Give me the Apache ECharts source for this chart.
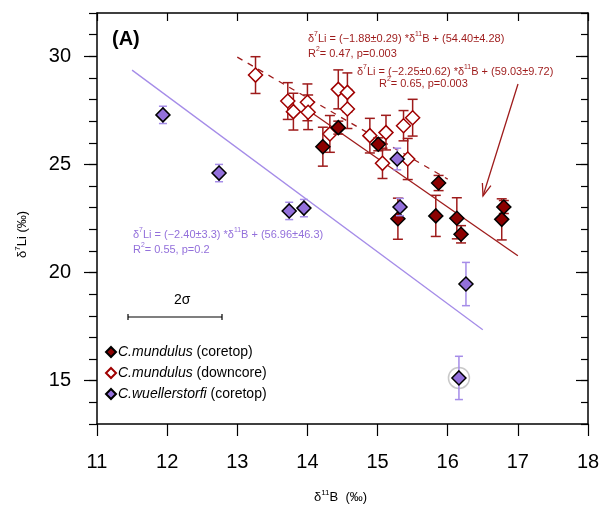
<!DOCTYPE html>
<html>
<head>
<meta charset="utf-8">
<script src="https://cdn.jsdelivr.net/npm/echarts@6/dist/echarts.min.js"></script>
<style>
  html, body { margin: 0; padding: 0; background: #fff; }
  #chart { width: 603px; height: 511px; }
</style>
</head>
<body>
<div id="chart"></div>
<script>
// C. mundulus (coretop)
const mundCoreB = [14.22, 14.44, 15.01, 15.87, 15.29, 15.83, 16.13, 16.19, 16.80, 16.77];
const mundCoreLi = [25.82, 26.70, 25.93, 24.14, 22.49, 22.62, 22.51, 21.77, 23.03, 22.46];
const mundCoreErr = [0.9, 0.3, 0.3, 0.35, 0.95, 0.95, 0.95, 0.4, 0.3, 0.95];

// C. mundulus (downcore)
const mundDownB = [13.26, 13.72, 13.80, 14.00, 14.01, 14.32, 14.44, 14.57, 14.57, 14.89, 15.12, 15.07, 15.37, 15.50, 15.43];
const mundDownLi = [29.13, 27.93, 27.44, 27.87, 27.41, 26.41, 28.47, 28.33, 27.56, 26.33, 26.47, 25.05, 26.79, 27.16, 25.25];
const mundDownErr = [0.85, 0.85, 0.85, 0.85, 0.8, 0.85, 0.9, 0.9, 0.9, 0.8, 0.8, 0.7, 0.7, 0.85, 0.95];

// C. wuellerstorfi (coretop)
const wuelB = [11.94, 12.74, 13.74, 13.95, 15.28, 15.32, 16.26, 16.16];
const wuelLi = [27.29, 24.60, 22.85, 22.98, 25.25, 23.03, 19.47, 15.13];
const wuelErr = [0.4, 0.4, 0.4, 0.4, 0.5, 0.4, 1.0, 1.0];
const circledIdx = 7;

// regression fits: dashed (downcore+coretop), solid (C. mundulus), purple (C. wuellerstorfi)
const fitSlope = [-1.88, -2.25, -2.40];
const fitIntercept = [54.40, 59.03, 56.96];
const fitFrom = [13.0, 14.0, 11.5];
const fitTo = [16.0, 17.0, 16.5];

const xTicks = [11, 12, 13, 14, 15, 16, 17, 18];
const yMajor = [15, 20, 25, 30];

const seriesNames = ['C.mundulus (coretop)', 'C.mundulus (downcore)', 'C.wuellerstorfi (coretop)'];

const FONT = '"Liberation Sans", Arial, Helvetica, sans-serif';
const RED = '#8b0000';
const RED_LINE = '#9e1b1b';
const PURPLE = '#9370db';
const PURPLE_LIGHT = '#a58ce8';

const zip = (a, b, c) => a.map((v, i) => c ? [v, b[i], c[i]] : [v, b[i]]);
const fitLine = i => [
    [fitFrom[i], fitSlope[i] * fitFrom[i] + fitIntercept[i]],
    [fitTo[i], fitSlope[i] * fitTo[i] + fitIntercept[i]]
];

function errBar(color, cap, width) {
    return function (params, api) {
        const x = api.value(0), y = api.value(1), e = api.value(2);
        const hi = api.coord([x, y + e]);
        const lo = api.coord([x, y - e]);
        const style = { stroke: color, lineWidth: width };
        return {
            type: 'group',
            children: [
                { type: 'line', shape: { x1: hi[0], y1: hi[1], x2: lo[0], y2: lo[1] }, style },
                { type: 'line', shape: { x1: hi[0] - cap, y1: hi[1], x2: hi[0] + cap, y2: hi[1] }, style },
                { type: 'line', shape: { x1: lo[0] - cap, y1: lo[1], x2: lo[0] + cap, y2: lo[1] }, style }
            ]
        };
    };
}

const rich = (size, color) => ({
    n: { fontSize: size, fontFamily: FONT, color, lineHeight: 15 },
    s: { fontSize: size * 0.62, fontFamily: FONT, color, verticalAlign: 'top', lineHeight: 15 }
});

function label(x, y, text, size, color) {
    return {
        type: 'text', left: x, top: y, z: 100,
        style: { text, rich: rich(size, color), fill: color, font: size + 'px ' + FONT }
    };
}

const axisLine = { show: true, lineStyle: { color: '#000', width: 1.5 } };
const tickStyle = { color: '#000', width: 1.2 };

const chart = echarts.init(document.getElementById('chart'));

// arrow pointing at the solid fit line
const tail = [518, 84], head = [483, 196];
const ang = Math.atan2(tail[1] - head[1], tail[0] - head[0]);
const wing = a => [head[0] + 13 * Math.cos(ang + a), head[1] + 13 * Math.sin(ang + a)];

chart.setOption({
    animation: false,
    textStyle: { fontFamily: FONT },
    grid: { left: 97, right: 15, top: 13, bottom: 87 },
    xAxis: [
        {
            type: 'value', min: 11, max: 18, interval: 1, position: 'bottom',
            axisLine, axisTick: { show: true, length: 12, lineStyle: tickStyle },
            axisLabel: { fontSize: 20, margin: 28, color: '#000', fontFamily: FONT,
                customValues: xTicks },
            splitLine: { show: false }
        },
        {
            type: 'value', min: 11, max: 18, interval: 1, position: 'top',
            axisLine, axisTick: { show: true, inside: true, length: 8, lineStyle: tickStyle },
            axisLabel: { show: false }, splitLine: { show: false }
        }
    ],
    yAxis: [
        {
            type: 'value', min: 13, max: 32, interval: 1, position: 'left',
            axisLine, axisTick: { show: true, length: 8, lineStyle: tickStyle },
            axisLabel: { show: false }, splitLine: { show: false }
        },
        {
            type: 'value', min: 13, max: 32, interval: 1, position: 'left',
            axisLine: { show: false },
            axisTick: { show: true, length: 13, lineStyle: tickStyle, customValues: yMajor },
            axisLabel: { fontSize: 20, margin: 26, color: '#000', fontFamily: FONT, customValues: yMajor },
            splitLine: { show: false }
        },
        {
            type: 'value', min: 13, max: 32, interval: 1, position: 'right',
            axisLine, axisTick: { show: true, inside: true, length: 7, lineStyle: tickStyle },
            axisLabel: { show: false }, splitLine: { show: false }
        },
        {
            type: 'value', min: 13, max: 32, interval: 1, position: 'right',
            axisLine: { show: false },
            axisTick: { show: true, inside: true, length: 12, lineStyle: tickStyle, customValues: yMajor },
            axisLabel: { show: false }, splitLine: { show: false }
        }
    ],
    legend: {
        data: seriesNames,
        orient: 'vertical', left: 100, top: 340,
        itemWidth: 10, itemHeight: 10, itemGap: 7,
        formatter: name => {
            const cut = name.indexOf(' ');
            return '{i|' + name.slice(0, cut) + '}' + name.slice(cut);
        },
        textStyle: {
            fontSize: 14, color: '#000', fontFamily: FONT, padding: [0, 0, 0, -3],
            rich: { i: { fontSize: 14, fontStyle: 'italic', color: '#000', fontFamily: FONT } }
        }
    },
    series: [
        {
            type: 'line', data: fitLine(0), symbol: 'none', silent: true,
            lineStyle: { color: RED_LINE, width: 1.3, type: [6, 6] }
        },
        {
            type: 'line', data: fitLine(1), symbol: 'none', silent: true,
            lineStyle: { color: RED_LINE, width: 1.3 }
        },
        {
            type: 'line', data: fitLine(2), symbol: 'none', silent: true,
            lineStyle: { color: PURPLE_LIGHT, width: 1.3 }
        },
        {
            type: 'scatter', silent: true,
            data: [[wuelB[circledIdx], wuelLi[circledIdx]]],
            symbol: 'circle', symbolSize: 21,
            itemStyle: { color: 'rgba(0,0,0,0)', borderColor: '#bbbbbb', borderWidth: 1.5 }
        },
        {
            type: 'custom', renderItem: errBar(RED_LINE, 5, 1.5),
            data: zip(mundDownB, mundDownLi, mundDownErr), z: 3
        },
        {
            name: seriesNames[1], type: 'scatter', z: 4,
            data: zip(mundDownB, mundDownLi), symbol: 'diamond', symbolSize: 14,
            itemStyle: { color: '#fff', borderColor: '#a00000', borderWidth: 1.5, opacity: 1 }
        },
        {
            type: 'custom', renderItem: errBar(RED_LINE, 5, 1.5),
            data: zip(mundCoreB, mundCoreLi, mundCoreErr), z: 5
        },
        {
            name: seriesNames[0], type: 'scatter', z: 6,
            data: zip(mundCoreB, mundCoreLi), symbol: 'diamond', symbolSize: 14,
            itemStyle: { color: RED, borderColor: '#000', borderWidth: 1.5, opacity: 1 }
        },
        {
            type: 'custom', renderItem: errBar(PURPLE_LIGHT, 4, 1.5),
            data: zip(wuelB, wuelLi, wuelErr), z: 7
        },
        {
            name: seriesNames[2], type: 'scatter', z: 8,
            data: zip(wuelB, wuelLi), symbol: 'diamond', symbolSize: 14,
            itemStyle: { color: PURPLE, borderColor: '#000', borderWidth: 1.5, opacity: 1 }
        }
    ],
    graphic: [
        {
            type: 'text', left: 112, top: 29, z: 100,
            style: { text: '(A)', font: 'bold 20px ' + FONT, fill: '#000' }
        },
        label(308, 31, '{n|δ}{s|7}{n|Li = (−1.88±0.29) *δ}{s|11}{n|B + (54.40±4.28)}\n{n|R}{s|2}{n|= 0.47, p=0.003}', 11, RED_LINE),
        label(357, 64, '{n|δ}{s|7}{n|Li = (−2.25±0.62) *δ}{s|11}{n|B + (59.03±9.72)}', 11, RED_LINE),
        label(379, 76, '{n|R}{s|2}{n|= 0.65, p=0.003}', 11, RED_LINE),
        label(133, 227, '{n|δ}{s|7}{n|Li = (−2.40±3.3) *δ}{s|11}{n|B + (56.96±46.3)}\n{n|R}{s|2}{n|= 0.55, p=0.2}', 11, PURPLE),
        {
            type: 'text', left: 174, top: 293, z: 100,
            style: { text: '2σ', font: '14px ' + FONT, fill: '#000' }
        },
        { type: 'line', z: 100, shape: { x1: 128, y1: 317, x2: 222, y2: 317 }, style: { stroke: '#000', lineWidth: 1.2 } },
        { type: 'line', z: 100, shape: { x1: 128, y1: 314, x2: 128, y2: 320 }, style: { stroke: '#000', lineWidth: 1.2 } },
        { type: 'line', z: 100, shape: { x1: 222, y1: 314, x2: 222, y2: 320 }, style: { stroke: '#000', lineWidth: 1.2 } },
        {
            type: 'polyline', z: 100,
            shape: { points: [tail, head] },
            style: { stroke: RED_LINE, lineWidth: 1.3, fill: null }
        },
        {
            type: 'polyline', z: 100,
            shape: { points: [wing(0.35), head, wing(-0.35)] },
            style: { stroke: RED_LINE, lineWidth: 1.3, fill: null }
        },
        {
            type: 'text', left: 314, top: 489, z: 100,
            style: {
                text: '{n|δ}{s|11}{n|B  (‰)}',
                rich: {
                    n: { fontSize: 13, fontFamily: FONT, color: '#000', lineHeight: 16 },
                    s: { fontSize: 8, fontFamily: FONT, color: '#000', verticalAlign: 'top', lineHeight: 16 }
                }
            }
        },
        {
            type: 'text', x: 14, y: 258, rotation: Math.PI / 2, z: 100,
            style: {
                text: '{n|δ}{s|7}{n|Li (‰)}',
                rich: {
                    n: { fontSize: 13, fontFamily: FONT, color: '#000', lineHeight: 16 },
                    s: { fontSize: 8, fontFamily: FONT, color: '#000', verticalAlign: 'top', lineHeight: 16 }
                }
            }
        }
    ]
});
</script>
</body>
</html>
